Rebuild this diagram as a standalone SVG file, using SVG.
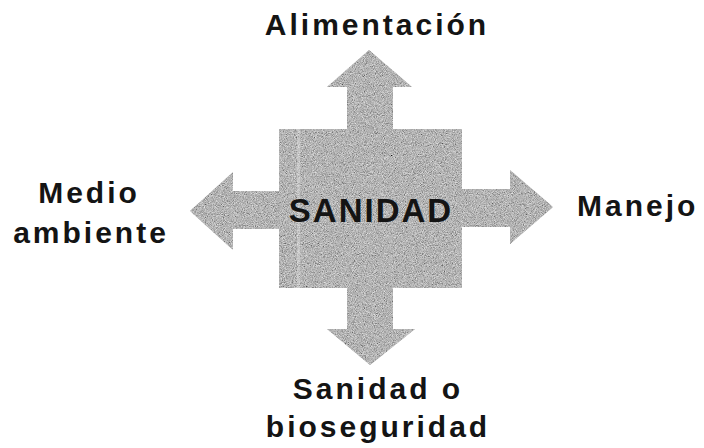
<svg xmlns="http://www.w3.org/2000/svg" width="704" height="448" viewBox="0 0 704 448">
<style>
.lbl{font-family:"Liberation Sans",Arial,sans-serif;font-weight:bold;font-size:30px;fill:#141414;letter-spacing:3px}
.blk{fill:#a6a6a6;filter:url(#grain)}
</style>
<defs>
<filter id="grain" filterUnits="userSpaceOnUse" x="0" y="0" width="704" height="448">
<feTurbulence type="fractalNoise" baseFrequency="1.1" numOctaves="2" seed="4" result="n"/>
<feColorMatrix in="n" type="matrix" values="0.33 0.33 0.33 0 0  0.33 0.33 0.33 0 0  0.33 0.33 0.33 0 0  0 0 0 0 1" result="g"/>
<feComposite in="SourceGraphic" in2="g" operator="arithmetic" k1="0" k2="0.6" k3="1.4" k4="-0.47" result="m"/>
<feComposite in="m" in2="SourceAlpha" operator="in"/>
</filter>
</defs>
<rect width="704" height="448" fill="#ffffff"/>
<g id="connectors">
<path class="blk" d="M347,130 L347,87 L327,87 L369,50 L412,87 L393,87 L393,130 Z"/>
<path class="blk" d="M347,287 L347,329 L327,329 L370,365 L415,329 L393,329 L393,287 Z"/>
<path class="blk" d="M280,191 L233,191 L233,172 L190,211 L233,250 L233,229 L280,229 Z"/>
<path class="blk" d="M461,189 L510,189 L510,170 L553,207 L510,244 L510,227 L461,227 Z"/>
</g>
<g id="node-sanidad">
<rect class="blk" x="279" y="129" width="183" height="159"/>
<rect x="297" y="129" width="3" height="159" fill="#ffffff" opacity="0.25"/>
<text class="lbl" x="371" y="222" text-anchor="middle" style="font-size:33px;letter-spacing:2px">SANIDAD</text>
</g>
<g id="node-alimentacion">
<text class="lbl" x="377" y="35" text-anchor="middle">Alimentación</text>
</g>
<g id="node-medio-ambiente">
<text class="lbl" x="89" y="203" text-anchor="middle">Medio</text>
<text class="lbl" x="91" y="243" text-anchor="middle">ambiente</text>
</g>
<g id="node-manejo">
<text class="lbl" x="577" y="216">Manejo</text>
</g>
<g id="node-bioseguridad">
<text class="lbl" x="378" y="399" text-anchor="middle">Sanidad o</text>
<text class="lbl" x="378" y="437" text-anchor="middle">bioseguridad</text>
</g>
</svg>
